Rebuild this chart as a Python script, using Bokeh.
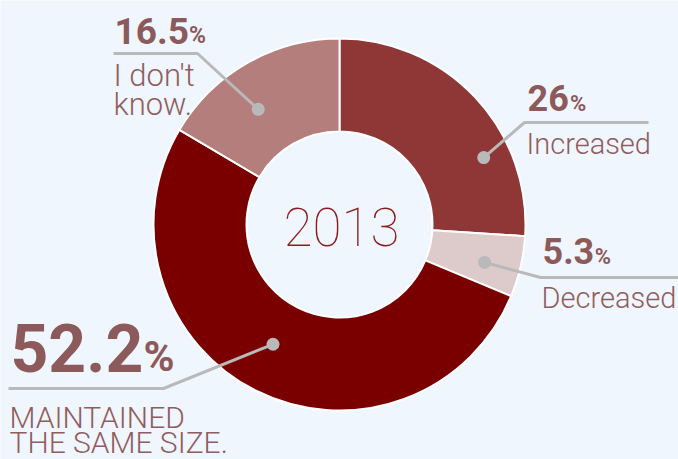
import numpy as np
from bokeh.plotting import figure
from bokeh.models import Range1d
from bokeh.core.properties import value
from bokeh.embed import file_html
from bokeh.resources import INLINE

# ---------------- data ----------------
year = "2013"
categories = ["Increased", "Decreased", "MAINTAINED\nTHE SAME SIZE.", "I don't\nknow."]
shares = [26.0, 5.3, 52.2, 16.5]
share_labels = ["26", "5.3", "52.2", "16.5"]

# ---------------- styles / layout ----------------
slice_colors = ["#8f3636", "#ddcaca", "#7a0000", "#b47e7d"]
BG = "#f0f6fd"
NUM_COLOR = "#8d5a5b"
TXT_COLOR = "#905d5e"
LINE_COLOR = "#b9b9b9"
YEAR_COLOR = "#8b1c1c"

W, H = 678, 459
K_BASE = 0.34  # renderer baseline shift correction (fraction of font size)


def X(px):
    return px


def Y(py):
    return H - py


def YT(py, size):
    return H - (py - K_BASE * size)


CX, CY = X(339), Y(224)
R_OUT, R_IN = 186, 93

# anchor dot: offset from slice mid-angle (deg) and radius
anchor_dang = [-18.3, -1.5, -2.4, 5.5]
anchor_r = [159, 150, 137, 141]
# elbow and horizontal end (image px)
elbows = [(524, 122), (540, 277), (163, 388), (197, 53)]
h_ends = [648, 678, 8, 113]
# number text: x, baseline, size, pct size
num_pos = [(527, 110, 36, 22), (542, 263, 36, 22), (10, 370, 66, 42), (114, 43, 37, 23)]
# description: x, first baseline, size, line spacing
desc_pos = [(526, 153, 29, 30), (541, 307, 29, 30), (9, 427, 30, 25), (113, 86, 31, 29)]

p = figure(width=W, height=H, x_range=Range1d(0, W), y_range=Range1d(0, H),
           output_backend="svg", toolbar_location=None, min_border=0)
p.axis.visible = False
p.grid.visible = False
p.outline_line_color = None
p.background_fill_color = BG
p.border_fill_color = BG

vals = np.array(shares)
cum = np.cumsum(vals)
total = vals.sum()
start = np.pi / 2 - np.concatenate([[0], cum[:-1]]) / total * 2 * np.pi
end = np.pi / 2 - cum / total * 2 * np.pi
mid = (start + end) / 2

p.annular_wedge(x=CX, y=CY, inner_radius=R_IN, outer_radius=R_OUT,
                start_angle=start, end_angle=end, direction="clock",
                fill_color=slice_colors, line_color="white", line_width=2)

p.text(x=[X(341)], y=[YT(245, 53)], text=[year], text_align="center",
       text_baseline="alphabetic", text_font=value("Roboto Thin"),
       text_font_size="53px", text_color=YEAR_COLOR)

for i in range(len(shares)):
    ang = mid[i] + np.deg2rad(anchor_dang[i])
    dx = CX + anchor_r[i] * np.cos(ang)
    dy = CY + anchor_r[i] * np.sin(ang)
    ex, ey = elbows[i]
    p.line(x=[dx, X(ex), X(h_ends[i])], y=[dy, Y(ey), Y(ey)],
           line_color=LINE_COLOR, line_width=3)
    p.scatter(x=[dx], y=[dy], size=13, marker="circle",
              fill_color=LINE_COLOR, line_color=None)

    nx, nb, ns, ps = num_pos[i]
    lab = share_labels[i]
    p.text(x=[X(nx)], y=[YT(nb, ns)], text=[lab], text_align="left",
           text_baseline="alphabetic", text_font=value("Roboto"),
           text_font_style="bold", text_font_size=f"{ns}px", text_color=NUM_COLOR)
    wid = sum(0.27 if c == "." else 0.5615 for c in lab) * ns
    p.text(x=[X(nx) + wid + ns * 0.06], y=[YT(nb, ps)], text=["%"], text_align="left",
           text_baseline="alphabetic", text_font=value("Roboto"),
           text_font_style="bold", text_font_size=f"{ps}px", text_color=NUM_COLOR)

    tx, tb, ts, tl = desc_pos[i]
    for j, line in enumerate(categories[i].split("\n")):
        p.text(x=[X(tx)], y=[YT(tb + j * tl, ts)], text=[line], text_align="left",
               text_baseline="alphabetic", text_font=value("Roboto Light"),
               text_font_size=f"{ts}px", text_color=TXT_COLOR)

html = file_html(p, INLINE)
html = html.replace("<body>", f'<body style="background:{BG}">', 1)
open("out.html", "w").write(html)
